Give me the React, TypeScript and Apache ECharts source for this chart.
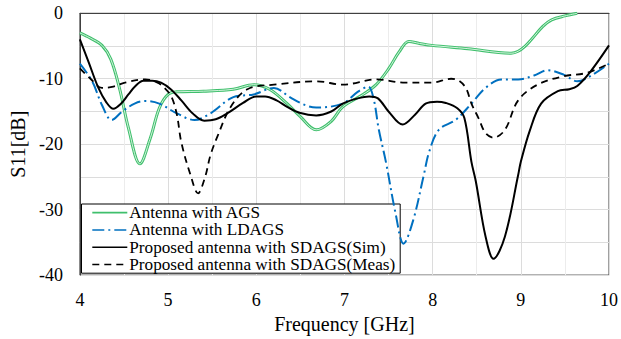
import React, { useEffect, useRef } from "react";
import * as echarts from "echarts";

const seriesNames = [
  "Antenna with AGS",
  "Antenna with LDAGS",
  "Proposed antenna with SDAGS(Sim)",
  "Proposed antenna with SDAGS(Meas)",
];

const agsFreq = [4.0, 4.12, 4.25, 4.35, 4.45, 4.55, 4.68, 4.8, 4.9, 5.0, 5.1, 5.4, 5.74, 5.97, 6.15, 6.35, 6.5, 6.68, 6.85, 6.98, 7.2, 7.36, 7.5, 7.62, 7.73, 7.85, 7.99, 8.4, 8.89, 8.97, 9.05, 9.12, 9.25, 9.35, 9.5, 9.64];
const agsS11 = [-3.0, -3.8, -4.9, -7.0, -11.5, -17.5, -23.0, -19.0, -14.5, -12.4, -12.0, -11.9, -11.6, -10.9, -11.6, -13.8, -15.8, -17.8, -16.5, -14.3, -12.5, -10.9, -8.5, -5.9, -4.3, -4.6, -4.9, -5.4, -6.1, -5.8, -5.0, -4.0, -2.0, -1.0, -0.4, 0];

const ldagsFreq = [4.0, 4.14, 4.25, 4.36, 4.48, 4.62, 4.74, 4.9, 5.1, 5.3, 5.48, 5.74, 5.97, 6.2, 6.38, 6.55, 6.68, 6.98, 7.15, 7.27, 7.33, 7.39, 7.47, 7.58, 7.67, 7.78, 7.9, 7.96, 8.07, 8.26, 8.44, 8.6, 8.78, 8.97, 9.15, 9.3, 9.49, 9.64, 9.8, 10.0];
const ldagsS11 = [-7.7, -10.4, -14.0, -16.3, -15.0, -13.8, -13.4, -13.8, -15.3, -16.3, -15.3, -12.8, -12.4, -11.4, -12.8, -14.0, -14.4, -13.8, -12.0, -11.2, -13.0, -17.8, -22.7, -30.6, -35.2, -31.6, -24.7, -21.2, -17.8, -16.3, -13.8, -11.4, -10.1, -10.1, -9.5, -8.7, -9.4, -10.4, -9.5, -7.7];

const simFreq = [4.0, 4.1, 4.21, 4.3, 4.38, 4.46, 4.55, 4.63, 4.72, 4.82, 4.92, 5.03, 5.15, 5.28, 5.41, 5.54, 5.67, 5.85, 6.0, 6.1, 6.23, 6.35, 6.49, 6.68, 6.85, 6.98, 7.15, 7.28, 7.38, 7.5, 7.66, 7.8, 7.92, 8.05, 8.15, 8.28, 8.36, 8.44, 8.49, 8.6, 8.69, 8.82, 8.97, 9.0, 9.1, 9.23, 9.42, 9.55, 9.64, 9.79, 10.0];
const simS11 = [-4.0, -7.5, -11.4, -13.6, -14.6, -13.9, -12.4, -11.1, -10.3, -10.3, -10.6, -11.6, -13.3, -15.3, -16.4, -16.2, -15.3, -13.7, -12.7, -12.7, -13.3, -14.3, -15.2, -15.6, -15.0, -13.8, -13.0, -12.7, -13.0, -15.0, -17.0, -15.5, -13.8, -13.5, -13.7, -14.5, -16.0, -22.7, -25.7, -34.1, -37.5, -34.1, -24.7, -22.7, -18.0, -13.8, -11.9, -11.6, -11.1, -8.9, -4.9];

const measFreq = [4.0, 4.12, 4.25, 4.38, 4.51, 4.74, 4.88, 4.96, 5.04, 5.1, 5.15, 5.25, 5.34, 5.42, 5.48, 5.56, 5.71, 5.9, 6.2, 6.69, 6.98, 7.36, 7.69, 7.99, 8.21, 8.3, 8.38, 8.44, 8.52, 8.6, 8.69, 8.82, 8.97, 9.19, 9.49, 9.75, 10.0];
const measS11 = [-8.4, -10.0, -11.4, -11.2, -10.6, -10.1, -10.6, -11.4, -12.8, -15.5, -19.7, -24.5, -27.5, -25.0, -21.7, -18.8, -14.3, -11.6, -10.9, -10.4, -10.9, -10.1, -10.6, -10.6, -10.0, -10.3, -11.5, -13.8, -16.0, -18.3, -19.0, -17.8, -13.3, -10.9, -9.6, -9.1, -7.7];

const xTicks = [4, 5, 6, 7, 8, 9, 10];
const yTicks = [-40, -30, -20, -10, 0];

const zip = (xs: number[], ys: number[]) => xs.map((x, i) => [x, ys[i]]);

const FONT = "Times New Roman";

export default function App() {
  const ref = useRef<HTMLDivElement>(null);
  useEffect(() => {
    if (!ref.current) return;
    const chart = echarts.init(ref.current, undefined, { renderer: "svg" });
    const smooth = 0.35;
    const axisText = { fontFamily: FONT, fontWeight: "normal", fontStyle: "normal", color: "#000" };
    chart.setOption({
      animation: false,
      backgroundColor: "#ffffff",
      textStyle: { fontFamily: FONT },
      grid: {
        left: 78,
        top: 13.3,
        right: 9.3,
        bottom: 55.7,
        show: true,
        borderColor: "#404040",
        borderWidth: 1,
      },
      xAxis: {
        type: "value",
        min: xTicks[0],
        max: xTicks[xTicks.length - 1],
        interval: 1,
        name: "Frequency [GHz]",
        nameLocation: "middle",
        nameGap: 37,
        nameTextStyle: { ...axisText, fontSize: 20 },
        axisLine: { show: true, lineStyle: { color: "#404040" } },
        axisTick: { show: false },
        axisLabel: { ...axisText, fontSize: 18, margin: 16 },
        splitLine: { show: true, lineStyle: { color: "#dcdcdc", width: 1 } },
        minorTick: { show: false, splitNumber: 2 },
        minorSplitLine: { show: true, lineStyle: { color: "#ececec", width: 1 } },
      },
      yAxis: {
        type: "value",
        min: yTicks[0],
        max: yTicks[yTicks.length - 1],
        interval: 10,
        name: "S11[dB]",
        nameLocation: "middle",
        nameGap: 47,
        nameTextStyle: { ...axisText, fontSize: 20 },
        axisLine: { show: true, lineStyle: { color: "#404040" } },
        axisTick: { show: false },
        axisLabel: { ...axisText, fontSize: 18, margin: 17 },
        splitLine: { show: true, lineStyle: { color: "#dcdcdc", width: 1 } },
        minorTick: { show: false, splitNumber: 2 },
        minorSplitLine: { show: true, lineStyle: { color: "#dcdcdc", width: 1 } },
      },
      legend: {
        data: seriesNames,
        orient: "vertical",
        left: 81.5,
        top: 204,
        padding: [0, 5, 0, 10],
        itemWidth: 35,
        itemHeight: 12,
        itemGap: 0,
        backgroundColor: "#ffffff",
        borderColor: "#000000",
        borderWidth: 1,
        borderRadius: 0,
        itemStyle: { opacity: 0 },
        lineStyle: { width: 1.6 },
        textStyle: { fontFamily: FONT, fontSize: 17.2, color: "#000", lineHeight: 17.3, padding: [0, 0, 0, -3] },
      },
      series: [
        {
          name: seriesNames[0],
          type: "line",
          data: zip(agsFreq, agsS11),
          smooth,
          symbol: "none",
          lineStyle: { color: "#3fbf6c", width: 3 },
          itemStyle: { color: "#3fbf6c" },
          z: 2,
        },
        {
          name: "ags-inner",
          type: "line",
          data: zip(agsFreq, agsS11),
          smooth,
          symbol: "none",
          lineStyle: { color: "#d4f3de", width: 1 },
          itemStyle: { color: "#d4f3de" },
          z: 3,
          silent: true,
        },
        {
          name: seriesNames[1],
          type: "line",
          data: zip(ldagsFreq, ldagsS11),
          smooth,
          symbol: "none",
          lineStyle: { color: "#0070c0", width: 2, type: [12, 4, 2, 4] },
          itemStyle: { color: "#0070c0" },
          z: 4,
        },
        {
          name: seriesNames[2],
          type: "line",
          data: zip(simFreq, simS11),
          smooth,
          symbol: "none",
          lineStyle: { color: "#000000", width: 2 },
          itemStyle: { color: "#000000" },
          z: 5,
        },
        {
          name: seriesNames[3],
          type: "line",
          data: zip(measFreq, measS11),
          smooth,
          symbol: "none",
          lineStyle: { color: "#000000", width: 1.8, type: [7, 5] },
          itemStyle: { color: "#000000" },
          z: 6,
        },
      ],
    });
    return () => chart.dispose();
  }, []);
  return (
    <div
      ref={ref}
      style={{ position: "absolute", left: 0, top: 0, width: 621, height: 339 }}
    />
  );
}
